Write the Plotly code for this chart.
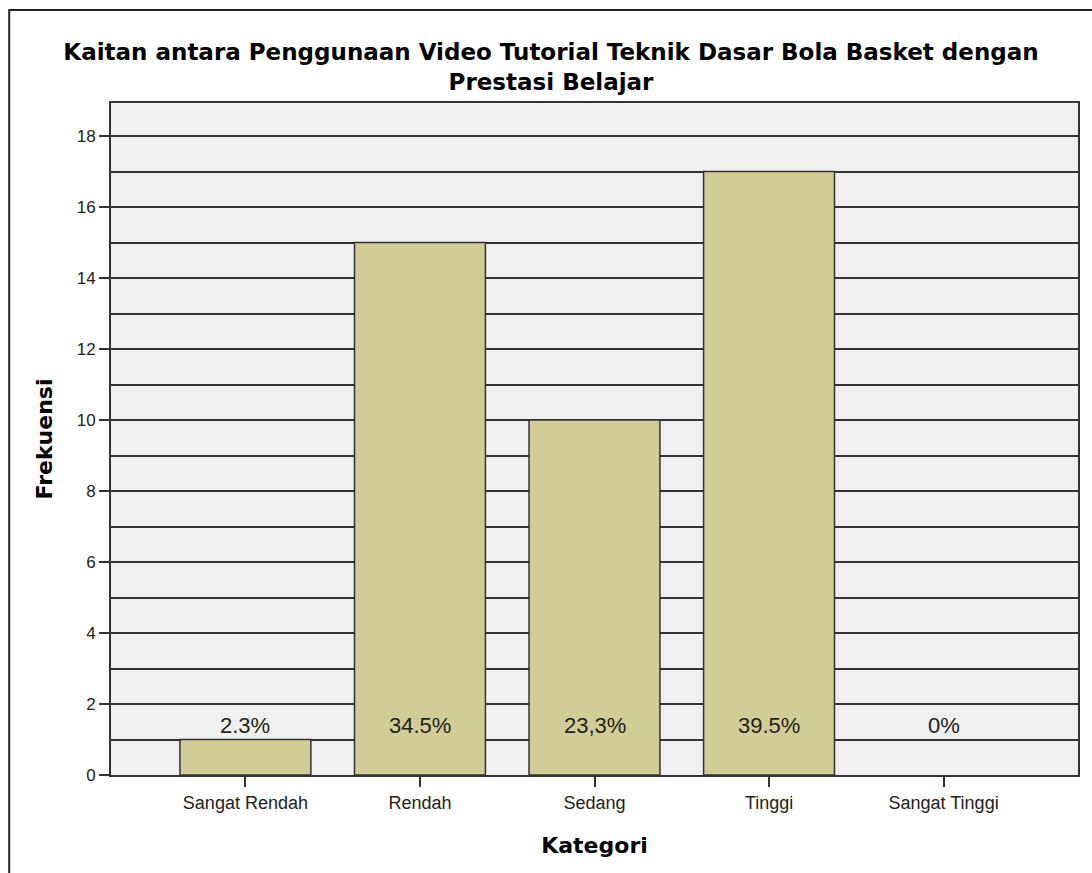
import plotly.graph_objects as go

categories = ["Sangat Rendah", "Rendah", "Sedang", "Tinggi", "Sangat Tinggi"]
frekuensi = [1, 15, 10, 17, 0]
persen_labels = ["2.3%", "34.5%", "23,3%", "39.5%", "0%"]
label_y = 1.4

W, H = 1092, 873
ML, MR, MT, MB = 111, 12, 103, 98
pw, ph = W - ML - MR, H - MT - MB

def px_x(px):
    return (px - ML) / pw

def px_y(py):
    return (H - MB - py) / ph

fig = go.Figure()
fig.add_trace(go.Bar(
    x=list(range(len(categories))), y=frekuensi,
    width=0.75,
    marker=dict(color="#D2CD96",
                line=dict(color="#333333", width=[1.5 if v > 0 else 0 for v in frekuensi])),
    hoverinfo="skip",
))

for i, t in enumerate(persen_labels):
    fig.add_annotation(x=i, y=label_y, text=t, showarrow=False,
                       font=dict(family="Liberation Sans, Arial", size=22, color="#222222"))

fig.add_shape(type="rect", xref="paper", yref="paper",
              x0=px_x(9), x1=px_x(1100), y0=px_y(880), y1=px_y(10),
              line=dict(color="#222222", width=2), layer="below")

fig.update_layout(
    width=W, height=H,
    margin=dict(l=ML, r=MR, t=MT, b=MB),
    paper_bgcolor="white", plot_bgcolor="#F0F0F0",
    showlegend=False,
    font=dict(family="Liberation Sans, Arial", color="#222222"),
    title=dict(
        text="<b>Kaitan antara Penggunaan Video Tutorial Teknik Dasar Bola Basket dengan<br>Prestasi Belajar</b>",
        x=551 / W, xref="container", xanchor="center",
        y=1 - 60 / H, yanchor="middle",
        font=dict(family="DejaVu Sans", size=23, color="#000000"),
    ),
    xaxis=dict(
        tickmode="array", tickvals=list(range(len(categories))), ticktext=categories,
        range=[-0.77, 4.77],
        showgrid=False, zeroline=False,
        showline=True, mirror=True, linecolor="#333333", linewidth=2,
        ticks="outside", ticklen=10, tickwidth=2, tickcolor="#333333",
        tickfont=dict(size=18, color="#222222"),
        title=dict(text="<b>Kategori</b>", font=dict(family="DejaVu Sans", size=22, color="#000000"), standoff=26),
    ),
    yaxis=dict(
        range=[0, 18.93], dtick=2, tick0=0,
        showgrid=True, gridcolor="#333333", gridwidth=1.5,
        minor=dict(dtick=1, showgrid=True, gridcolor="#333333", gridwidth=1.5, ticks=""),
        zeroline=False,
        showline=True, mirror=True, linecolor="#333333", linewidth=2,
        ticks="outside", ticklen=10, tickwidth=2, tickcolor="#333333",
        tickfont=dict(size=17, color="#222222"),
        title=dict(text="<b>Frekuensi</b>", font=dict(family="DejaVu Sans", size=22, color="#000000"), standoff=18),
    ),
)

fig.write_html("out.html")
